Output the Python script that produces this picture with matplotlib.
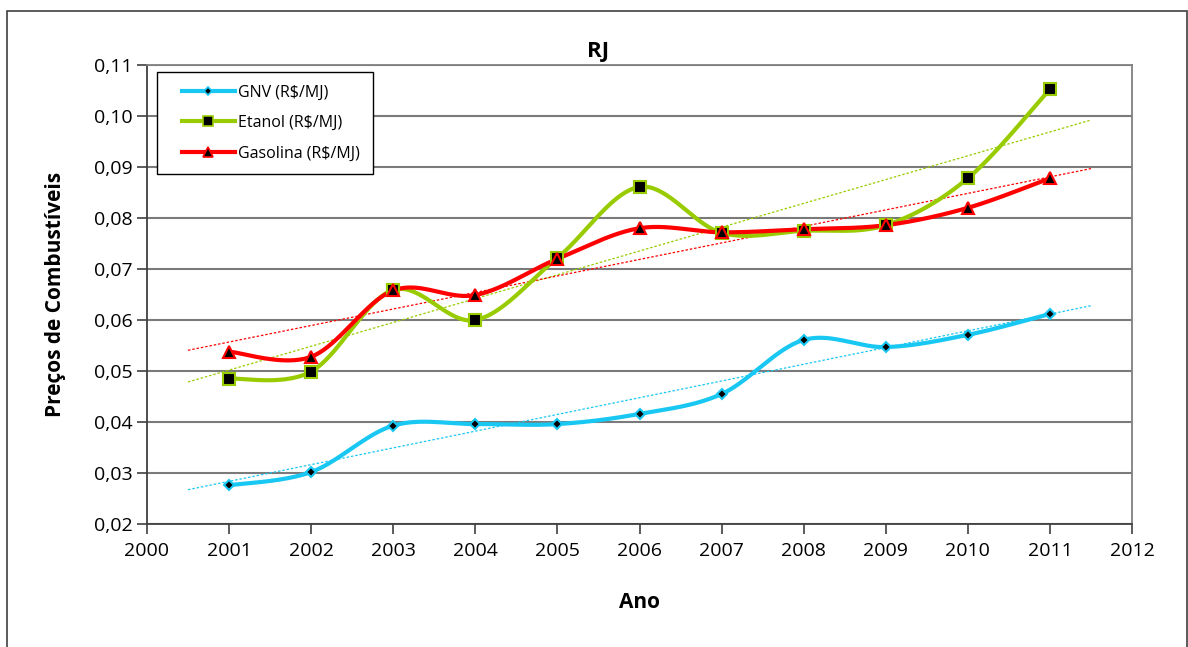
import numpy as np
import matplotlib
matplotlib.use("Agg")
import matplotlib.pyplot as plt
from matplotlib.ticker import FuncFormatter, MultipleLocator
from matplotlib.patches import Rectangle
from matplotlib.lines import Line2D
from matplotlib.legend_handler import HandlerLine2D

plt.rcParams['font.family'] = ['Open Sans', 'DejaVu Sans']

anos = [2001, 2002, 2003, 2004, 2005, 2006, 2007, 2008, 2009, 2010, 2011]
gnv = [0.0276, 0.0302, 0.0393, 0.0396, 0.0396, 0.0416, 0.0455, 0.0561, 0.0547, 0.0571, 0.0612]
etanol = [0.0485, 0.0499, 0.0659, 0.0600, 0.0722, 0.0861, 0.0771, 0.0775, 0.0786, 0.0878, 0.1053]
gasolina = [0.0538, 0.0528, 0.0658, 0.0649, 0.0720, 0.0780, 0.0772, 0.0778, 0.0786, 0.0820, 0.0878]

series = [
    ("GNV (R$/MJ)", gnv, "#19C8F2", "D", 5),
    ("Etanol (R$/MJ)", etanol, "#99CC00", "s", 8),
    ("Gasolina (R$/MJ)", gasolina, "#FF0000", "^", 8),
]


def smooth(x, y, n=40):
    # bezier smoothing through every point, control points at 1/6 of neighbour chord
    x = np.asarray(x, float)
    y = np.asarray(y, float)
    px = np.concatenate([[x[0]], x, [x[-1]]])
    py = np.concatenate([[y[0]], y, [y[-1]]])
    xs, ys = [], []
    t = np.linspace(0, 1, n)
    for i in range(1, len(px) - 2):
        p0 = np.array([px[i], py[i]])
        p3 = np.array([px[i + 1], py[i + 1]])
        p1 = p0 + (np.array([px[i + 1], py[i + 1]]) - np.array([px[i - 1], py[i - 1]])) / 6
        p2 = p3 - (np.array([px[i + 2], py[i + 2]]) - np.array([px[i], py[i]])) / 6
        b = ((1 - t) ** 3)[:, None] * p0 + (3 * (1 - t) ** 2 * t)[:, None] * p1 \
            + (3 * (1 - t) * t ** 2)[:, None] * p2 + (t ** 3)[:, None] * p3
        xs.extend(b[:, 0])
        ys.extend(b[:, 1])
    return xs, ys


fig = plt.figure(figsize=(11.88, 6.47), dpi=100)
ax = fig.add_axes([0.1237, 0.190, 0.8292, 0.7095])

# chart border
fig.patches.append(Rectangle((7 / 1188, -0.02), 1180 / 1188, 0.983 + 0.02,
                             transform=fig.transFigure, fill=False,
                             edgecolor="#404040", linewidth=1.2))

handles = []
for lab, vals, cor, mk, ms in series:
    # linear trend, extended half a year on each side
    a, b = np.polyfit(anos, vals, 1)
    tx = np.array([anos[0] - 0.5, anos[-1] + 0.5])
    ax.plot(tx, a * tx + b, color=cor, lw=0.9, ls=(0, (2, 1.5)), zorder=2)
    sx, sy = smooth(anos, vals)
    ax.plot(sx, sy, color=cor, lw=3, solid_capstyle="round", zorder=3)
    ax.plot(anos, vals, ls="none", marker=mk, ms=ms, mfc="black", mec=cor,
            mew=1.5, zorder=4)
    handles.append(Line2D([], [], color=cor, lw=3, marker=mk, ms=ms - 1,
                          mfc="black", mec=cor, mew=1.2, label=lab))

ax.set_xlim(2000, 2012)
ax.set_ylim(0.02, 0.11)
ax.xaxis.set_major_locator(MultipleLocator(1))
ax.yaxis.set_major_locator(MultipleLocator(0.01))
ax.yaxis.set_major_formatter(FuncFormatter(lambda v, p: f"{v:.2f}".replace(".", ",")))
ax.grid(axis="y", color="#7a7a7a", lw=1.5)
ax.set_axisbelow(True)
ax.tick_params(axis="both", labelsize=14, length=7, width=1.2, color="#404040")
ax.tick_params(axis="x", pad=6)
for s in ["top", "right"]:
    ax.spines[s].set_color("#808080")
    ax.spines[s].set_linewidth(1.3)
for s in ["left", "bottom"]:
    ax.spines[s].set_color("#404040")
    ax.spines[s].set_linewidth(1.3)

fig.text(0.503, 1 - 52 / 647, "RJ", fontsize=16, fontweight="bold",
         ha="center", va="center")
ax.set_xlabel("Ano", fontsize=15, fontweight="bold", labelpad=23)
ax.set_ylabel("Preços de Combustíveis", fontsize=15, fontweight="bold", labelpad=20)

leg = ax.legend(handles=handles, loc="upper left", bbox_to_anchor=(0.010, 0.985),
                fontsize=11.5, frameon=True, fancybox=False, edgecolor="black",
                framealpha=1, handlelength=4.1, labelspacing=0.9,
                borderpad=0.8, handletextpad=0.2, borderaxespad=0,
                handler_map={Line2D: HandlerLine2D(xpad=0.75)})
leg.get_frame().set_linewidth(1.0)

fig.savefig("out.png", dpi=100)
